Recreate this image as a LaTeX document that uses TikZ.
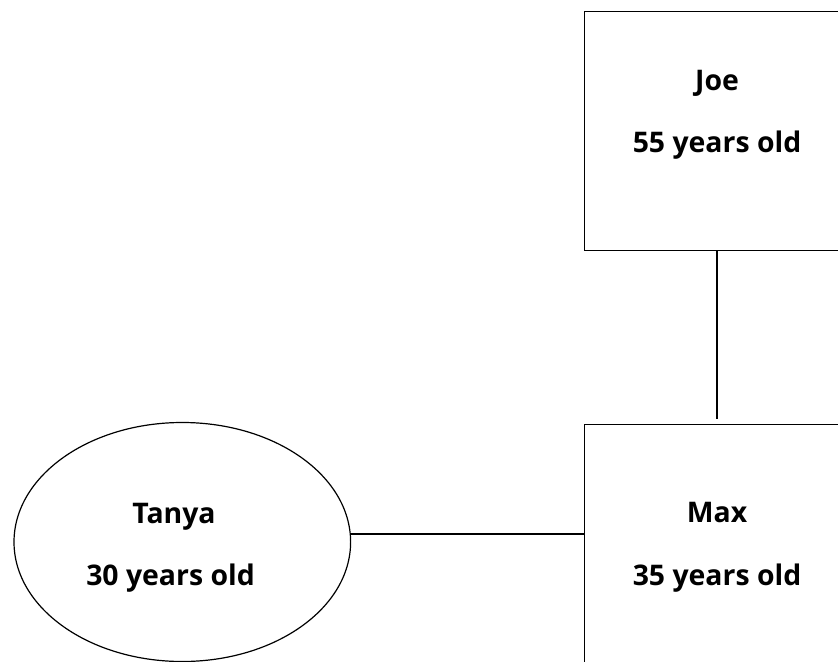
\documentclass[tikz,border=0pt]{standalone}
\usepackage{fontspec}
\setmainfont{Open Sans}
\usetikzlibrary{shapes.geometric}
\begin{document}
\begin{tikzpicture}[x=1bp,y=-1bp,
  box/.style={draw,line width=1.6bp,minimum width=265bp,minimum height=239bp,inner sep=0},
  oval/.style={draw,ellipse,line width=1.2bp,minimum width=336.6bp,minimum height=239bp,inner sep=0},
  txt/.style={anchor=base,font=\fontsize{28.5}{32}\selectfont\bfseries,inner sep=0},
  link/.style={line width=1.4bp}]
\useasboundingbox (0,0) rectangle (838,662);
\clip (0,0) rectangle (838,662);
\fill[white] (0,0) rectangle (838,662);
\node[box] (joe) at (717,131) {};
\node[box] (max) at (717,544) {};
\node[oval] (tanya) at (182.3,542) {};
\node[txt] (joe1) at (717,91) {Joe};
\node[txt] (joe2) at (717,153) {55 years old};
\node[txt] (max1) at (717,522) {Max};
\node[txt] (max2) at (717,585) {35 years old};
\node[txt] (tan1) at (174,523) {Tanya};
\node[txt] (tan2) at (170.5,585) {30 years old};
\draw[link,shorten >=4.5bp] (joe.south) -- (max.north);
\draw[link] ([yshift=8bp]tanya.east) -- ([yshift=8bp]tanya.east -| max.west);
\end{tikzpicture}
\end{document}
